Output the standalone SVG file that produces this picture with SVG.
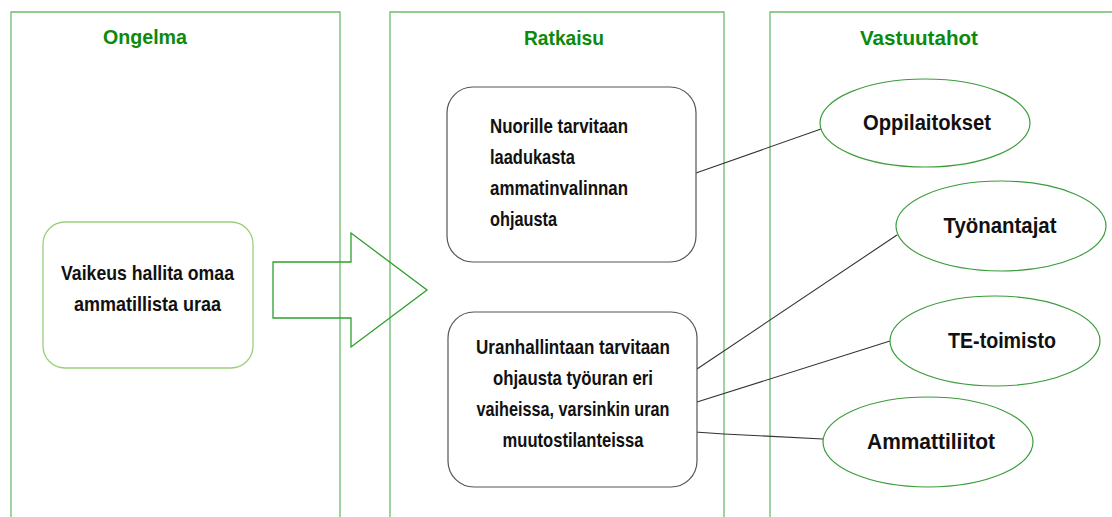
<svg xmlns="http://www.w3.org/2000/svg" width="1112" height="517" viewBox="0 0 1112 517">
<style>
.col{fill:none;stroke:#6cbb6c;stroke-width:1.3}
.hdr{font-family:"Liberation Sans",Arial,sans-serif;font-weight:bold;font-size:21px;fill:#0b8a0b;text-anchor:middle}
.txt{font-family:"Liberation Sans",Arial,sans-serif;font-weight:bold;font-size:20.5px;fill:#111}
.big{font-size:22px}
.mid{text-anchor:middle}
.sol{fill:#fff;stroke:#555;stroke-width:1.2}
.ell{fill:#fff;stroke:#3c9c3c;stroke-width:1.2}
.con{fill:none;stroke:#333;stroke-width:1.1}
</style>
<rect width="1112" height="517" fill="#fff"/>
<g id="columns">
<path class="col" d="M11,517 V12 H340 V517"/>
<path class="col" d="M390,517 V12 H724 V517"/>
<path class="col" d="M770,517 V12 H1112"/>
<text class="hdr" x="145" y="44" textLength="84" lengthAdjust="spacingAndGlyphs">Ongelma</text>
<text class="hdr" x="564" y="45" textLength="80" lengthAdjust="spacingAndGlyphs">Ratkaisu</text>
<text class="hdr" x="919" y="45" textLength="118" lengthAdjust="spacingAndGlyphs">Vastuutahot</text>
</g>
<g id="connectors">
<line class="con" x1="696" y1="173" x2="821" y2="129"/>
<line class="con" x1="697" y1="369" x2="897" y2="235"/>
<line class="con" x1="697" y1="402" x2="890" y2="341"/>
<polyline class="con" points="695,432 724,434 823,439"/>
</g>
<g id="arrow">
<polygon points="273,262 351,262 351,233 427,290 351,347 351,318 273,318" fill="none" stroke="#2ca02c" stroke-width="1.3"/>
</g>
<g id="problem">
<rect x="43" y="222" width="210" height="146" rx="22" fill="#fff" stroke="#9ccf7c" stroke-width="1.3"/>
<text class="txt mid" x="147.5" y="280" textLength="173" lengthAdjust="spacingAndGlyphs">Vaikeus hallita omaa</text>
<text class="txt mid" x="147.5" y="311" textLength="147" lengthAdjust="spacingAndGlyphs">ammatillista uraa</text>
</g>
<g id="solution1">
<rect class="sol" x="447" y="87" width="249" height="175" rx="26"/>
<text class="txt" x="490" y="133" textLength="138" lengthAdjust="spacingAndGlyphs">Nuorille tarvitaan</text>
<text class="txt" x="490" y="164" textLength="85" lengthAdjust="spacingAndGlyphs">laadukasta</text>
<text class="txt" x="490" y="195" textLength="138" lengthAdjust="spacingAndGlyphs">ammatinvalinnan</text>
<text class="txt" x="490" y="226" textLength="67" lengthAdjust="spacingAndGlyphs">ohjausta</text>
</g>
<g id="solution2">
<rect class="sol" x="448" y="312" width="249" height="175" rx="26"/>
<text class="txt mid" x="573" y="354" textLength="194" lengthAdjust="spacingAndGlyphs">Uranhallintaan tarvitaan</text>
<text class="txt mid" x="573" y="385" textLength="160" lengthAdjust="spacingAndGlyphs">ohjausta työuran eri</text>
<text class="txt mid" x="573" y="416" textLength="193" lengthAdjust="spacingAndGlyphs">vaiheissa, varsinkin uran</text>
<text class="txt mid" x="573" y="447" textLength="141" lengthAdjust="spacingAndGlyphs">muutostilanteissa</text>
</g>
<g id="oppilaitokset">
<ellipse class="ell" cx="925" cy="123" rx="105" ry="44"/>
<text class="txt big mid" x="927" y="130" textLength="128" lengthAdjust="spacingAndGlyphs">Oppilaitokset</text>
</g>
<g id="tyonantajat">
<ellipse class="ell" cx="1001" cy="226" rx="105" ry="45"/>
<text class="txt big mid" x="1000" y="233" textLength="113" lengthAdjust="spacingAndGlyphs">Työnantajat</text>
</g>
<g id="te-toimisto">
<ellipse class="ell" cx="995" cy="341" rx="105" ry="45"/>
<text class="txt big mid" x="1002" y="348" textLength="108" lengthAdjust="spacingAndGlyphs">TE-toimisto</text>
</g>
<g id="ammattiliitot">
<ellipse class="ell" cx="928" cy="442" rx="105" ry="45"/>
<text class="txt big mid" x="931" y="449" textLength="128" lengthAdjust="spacingAndGlyphs">Ammattiliitot</text>
</g>
</svg>
